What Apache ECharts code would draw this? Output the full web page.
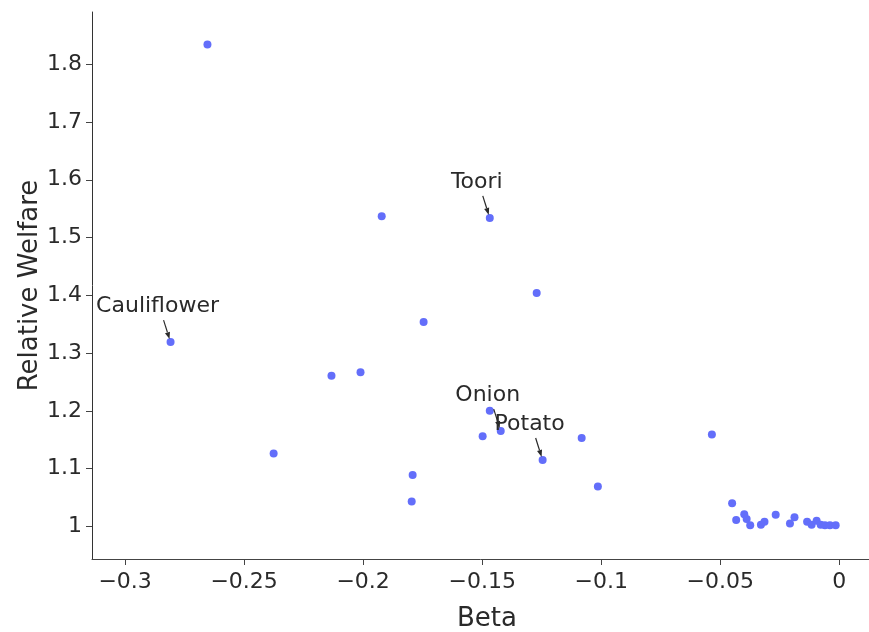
<!DOCTYPE html>
<html>
<head>
<meta charset="utf-8">
<script src="https://cdn.jsdelivr.net/npm/echarts@6/dist/echarts.min.js"></script>
<style>
  html, body { margin: 0; padding: 0; background: #fff; }
  #chart { width: 869px; height: 632px; }
</style>
</head>
<body>
<div id="chart"></div>
<script>
// values
const beta = [
  -0.2654, -0.1922, -0.1468, -0.1271, -0.1746, -0.2809, -0.2133, -0.2011, -0.2376,
  -0.1468, -0.1498, -0.1422, -0.1246, -0.1082, -0.1792, -0.1796, -0.1014, -0.0535,
  -0.0450, -0.0433, -0.0399, -0.0389, -0.0374, -0.0329, -0.0314, -0.0267, -0.0207,
  -0.0188, -0.0135, -0.0116, -0.0095, -0.0078, -0.0060, -0.0039, -0.0015
];
const welfare = [
  1.834, 1.537, 1.534, 1.404, 1.354, 1.319, 1.261, 1.267, 1.126,
  1.200, 1.156, 1.165, 1.115, 1.153, 1.089, 1.043, 1.069, 1.159,
  1.040, 1.011, 1.021, 1.013, 1.002, 1.003, 1.008, 1.020, 1.005,
  1.016, 1.008, 1.003, 1.010, 1.003, 1.002, 1.002, 1.002
];
// annotated items (index into the arrays above)
const labelNames = ['Toori', 'Cauliflower', 'Onion', 'Potato'];
const labelIdx = [2, 5, 11, 12];

const xTicks = [-0.3, -0.25, -0.2, -0.15, -0.1, -0.05, 0];
const yTicks = [1, 1.1, 1.2, 1.3, 1.4, 1.5, 1.6, 1.7, 1.8];

const ink = '#2a2a2a';
const chart = echarts.init(document.getElementById('chart'), null, {renderer: 'canvas'});

const fmtX = v => (v < 0 ? '\u2212' : '') + String(Math.abs(+v.toFixed(2)));
const fmtY = v => String(+v.toFixed(1));

function renderNote(params, api) {
  const p = api.coord([api.value(0), api.value(1)]);
  const tail = [p[0] - 7, p[1] - 22];
  const tip = [p[0] - 1, p[1] - 3];
  const dx = tip[0] - tail[0], dy = tip[1] - tail[1];
  const len = Math.sqrt(dx * dx + dy * dy);
  const ux = dx / len, uy = dy / len;
  const bx = tip[0] - ux * 7, by = tip[1] - uy * 7;
  const px = -uy * 2.6, py = ux * 2.6;
  return {
    type: 'group',
    children: [
      {
        type: 'text',
        x: p[0] - 13, y: p[1] - 36,
        style: {
          text: labelNames[params.dataIndex],
          align: 'center', verticalAlign: 'middle',
          font: '22px "DejaVu Sans"', fill: ink
        }
      },
      {
        type: 'line',
        shape: {x1: tail[0], y1: tail[1], x2: bx, y2: by},
        style: {stroke: ink, lineWidth: 1.2}
      },
      {
        type: 'polygon',
        shape: {points: [tip, [bx + px, by + py], [bx - px, by - py]]},
        style: {fill: ink}
      }
    ]
  };
}

const option = {
  animation: false,
  textStyle: {fontFamily: 'DejaVu Sans', color: ink},
  grid: {left: 92, right: 0, top: 12, bottom: 73, outerBoundsMode: 'none'},
  xAxis: {
    type: 'value',
    min: -0.3139, max: 0.0125,
    name: 'Beta',
    nameLocation: 'middle',
    nameGap: 47,
    nameMoveOverlap: false,
    nameTextStyle: {fontSize: 26, color: ink, padding: [0, 0, 0, 13]},
    axisLine: {onZero: false, lineStyle: {color: '#444', width: 1}},
    axisTick: {show: true, length: 6, lineStyle: {color: '#444'}, customValues: xTicks},
    axisLabel: {fontSize: 22, color: ink, margin: 12, customValues: xTicks, formatter: fmtX},
    splitLine: {show: false}
  },
  yAxis: {
    type: 'value',
    min: 0.9436, max: 1.8904,
    name: 'Relative Welfare',
    nameLocation: 'middle',
    nameGap: 49,
    nameMoveOverlap: false,
    nameTextStyle: {fontSize: 26, color: ink},
    axisLine: {onZero: false, lineStyle: {color: '#333', width: 1}},
    axisTick: {show: true, length: 6, lineStyle: {color: '#444'}, customValues: yTicks},
    axisLabel: {fontSize: 22, color: ink, margin: 10, customValues: yTicks, formatter: fmtY},
    splitLine: {show: false}
  },
  series: [
    {
      type: 'scatter',
      symbolSize: 8,
      itemStyle: {color: '#636efa', opacity: 1},
      data: beta.map((b, i) => [b, welfare[i]]),
      z: 2
    },
    {
      type: 'custom',
      renderItem: renderNote,
      clip: false,
      data: labelIdx.map(i => [beta[i], welfare[i]]),
      z: 3
    }
  ]
};
chart.setOption(option);
</script>
</body>
</html>
